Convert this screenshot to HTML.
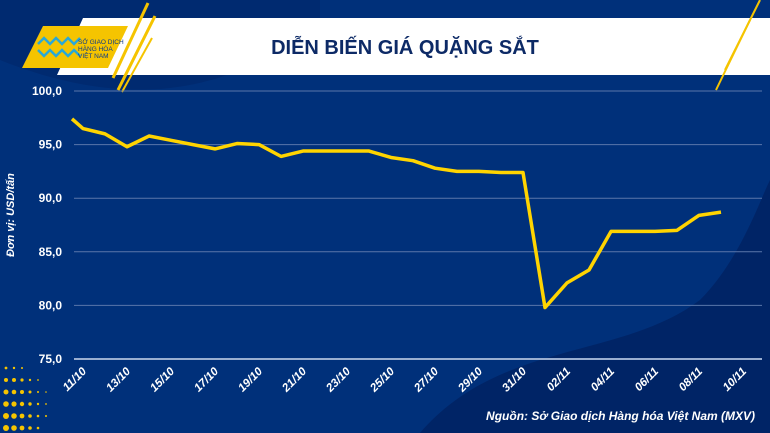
<!DOCTYPE html>
<html><head><meta charset="utf-8"><style>
body{margin:0;width:770px;height:433px;overflow:hidden;background:#00307a;font-family:"Liberation Sans",sans-serif}
svg{display:block}
</style></head><body>
<svg width="770" height="433" viewBox="0 0 770 433">
<rect width="770" height="433" fill="#00307a"/>
<path d="M420 433 C500 340 620 360 700 300 C740 260 760 200 770 180 L770 433 Z" fill="#002466"/>
<path d="M0 60 C150 120 250 80 320 20 L320 0 L0 0Z" fill="#002a70"/>
<g fill="#f5c400">
<circle cx="6" cy="380" r="2"/><circle cx="14" cy="380" r="2"/><circle cx="22" cy="380" r="1.6"/><circle cx="30" cy="380" r="1.2"/><circle cx="38" cy="380" r="0.9"/>
<circle cx="6" cy="392" r="2.5"/><circle cx="14" cy="392" r="2.3"/><circle cx="22" cy="392" r="2"/><circle cx="30" cy="392" r="1.5"/><circle cx="38" cy="392" r="1"/><circle cx="46" cy="392" r="0.8"/>
<circle cx="6" cy="404" r="2.8"/><circle cx="14" cy="404" r="2.6"/><circle cx="22" cy="404" r="2.2"/><circle cx="30" cy="404" r="1.7"/><circle cx="38" cy="404" r="1.2"/><circle cx="46" cy="404" r="0.9"/>
<circle cx="6" cy="416" r="3"/><circle cx="14" cy="416" r="2.8"/><circle cx="22" cy="416" r="2.4"/><circle cx="30" cy="416" r="1.8"/><circle cx="38" cy="416" r="1.3"/><circle cx="46" cy="416" r="1"/>
<circle cx="6" cy="428" r="3"/><circle cx="14" cy="428" r="2.8"/><circle cx="22" cy="428" r="2.4"/><circle cx="30" cy="428" r="1.8"/><circle cx="38" cy="428" r="1.3"/>
<circle cx="6" cy="368" r="1.4"/><circle cx="14" cy="368" r="1.2"/><circle cx="22" cy="368" r="1"/>
</g>
<g>
<polygon points="83,18 770,18 770,75 57,75" fill="#ffffff"/>
<polygon points="43,26 128,26 108,68 22,68" fill="#f5c400"/>
<line x1="148" y1="3" x2="113" y2="78" stroke="#f5c400" stroke-width="3"/>
<line x1="155" y1="16" x2="118" y2="90" stroke="#f5c400" stroke-width="3"/>
<line x1="152" y1="38" x2="122" y2="92" stroke="#f5c400" stroke-width="2"/>
<line x1="760" y1="0" x2="725" y2="70" stroke="#f5c400" stroke-width="2"/>
<line x1="750" y1="20" x2="716" y2="90" stroke="#f5c400" stroke-width="2"/>
<path d="M38 44 l6 -6 l6 6 l6 -6 l6 6 l6 -6 l6 6 l6 -6 M38 50 l6 6 l6 -6 l6 6 l6 -6 l6 6 l6 -6 l6 6" stroke="#2aa8d8" stroke-width="2.5" fill="none"/>
<text x="78" y="44" font-size="6.5" fill="#0a3a8a">SỞ GIAO DỊCH</text>
<text x="78" y="51" font-size="6.5" fill="#0a3a8a">HÀNG HÓA</text>
<text x="78" y="58" font-size="6.5" fill="#0a3a8a">VIỆT NAM</text>
<text x="405" y="54" font-size="20" font-weight="bold" fill="#0d2a66" text-anchor="middle">DIỄN BIẾN GIÁ QUẶNG SẮT</text>
</g>
<g id="grid"></g>
<g id="xlab"></g>
<path id="line" fill="none" stroke="#ffd400" stroke-width="3.5" stroke-linejoin="round"/>
<text transform="translate(14,215) rotate(-90)" font-size="11" font-weight="bold" font-style="italic" fill="#fff" text-anchor="middle">Đơn vị: USD/tấn</text>
<text x="755" y="420" font-size="12" font-weight="bold" font-style="italic" fill="#fff" text-anchor="end">Nguồn: Sở Giao dịch Hàng hóa Việt Nam (MXV)</text>
</svg>
<script>
const days=[0.5,1,2,3,4,5,6,7,8,9,10,11,12,13,14,15,16,17,18,19,20,21,22,23,24,25,26,27,28,29,30];
const prices=[97.4,96.5,96.0,94.8,95.8,95.4,95.0,94.6,95.1,95.0,93.9,94.4,94.4,94.4,94.4,93.8,93.5,92.8,92.5,92.5,92.4,92.4,79.8,82.1,83.3,86.9,86.9,86.9,87.0,88.4,88.7];
const yTicks=[75,80,85,90,95,100];
const yTickLabels=["75,0","80,0","85,0","90,0","95,0","100,0"];
const xTickDays=[0,2,4,6,8,10,12,14,16,18,20,22,24,26,28,30];
const xTickLabels=["11/10","13/10","15/10","17/10","19/10","21/10","23/10","25/10","27/10","29/10","31/10","02/11","04/11","06/11","08/11","10/11"];
const NS="http://www.w3.org/2000/svg";
const xs=d=>61+22*d;
const ys=v=>91+(100-v)*10.72;
const grid=document.getElementById('grid');
yTicks.forEach((t,i)=>{
 const l=document.createElementNS(NS,'line');
 l.setAttribute('x1',74);l.setAttribute('x2',762);l.setAttribute('y1',ys(t));l.setAttribute('y2',ys(t));
 l.setAttribute('stroke',t===75?'#9aaed0':'#5a76aa');l.setAttribute('stroke-width',t===75?2:1);
 
 
 grid.appendChild(l);
 const tx=document.createElementNS(NS,'text');
 tx.setAttribute('x',62);tx.setAttribute('y',ys(t)+4);tx.setAttribute('text-anchor','end');
 tx.setAttribute('font-size',12);tx.setAttribute('font-weight','bold');tx.setAttribute('fill','#fff');
 tx.textContent=yTickLabels[i];
 
 
 grid.appendChild(tx);
});
const xl=document.getElementById('xlab');
xTickDays.forEach((d,i)=>{
 const tx=document.createElementNS(NS,'text');
 const x=xs(d)+26,y=372;
 tx.setAttribute('transform','translate('+x+','+y+') rotate(-45)');
 tx.setAttribute('text-anchor','end');tx.setAttribute('font-size',11.5);tx.setAttribute('font-weight','bold');
 tx.setAttribute('font-style','italic');tx.setAttribute('fill','#fff');
 tx.textContent=xTickLabels[i];
 
 
 xl.appendChild(tx);
});
document.getElementById('line').setAttribute('d',days.map((d,i)=>(i?'L':'M')+xs(d)+' '+ys(prices[i])).join(' '));
</script>
</body></html>
